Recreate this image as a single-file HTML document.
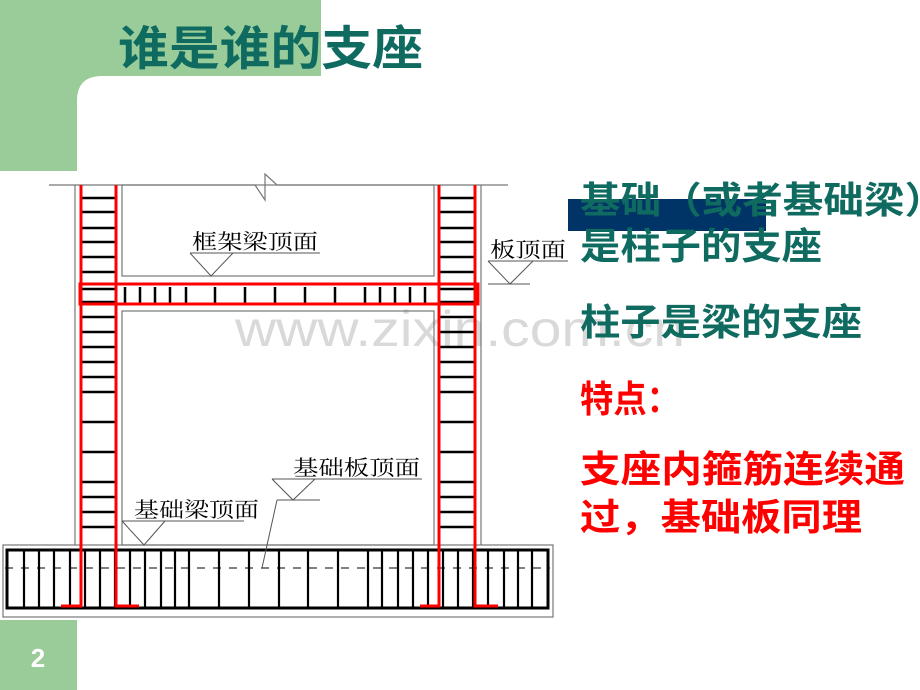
<!DOCTYPE html>
<html><head><meta charset="utf-8"><style>
html,body{margin:0;padding:0;background:#fff;}
svg{display:block;}
.cjk{font-family:"Liberation Sans","Noto Sans CJK SC","WenQuanYi Zen Hei",sans-serif;}
.ser{font-family:"Liberation Serif","Noto Serif CJK SC",serif;}
</style></head><body>
<svg width="920" height="690" viewBox="0 0 920 690" xmlns="http://www.w3.org/2000/svg">
<!-- green decorations -->
<rect x="0" y="0" width="321" height="76" fill="#99cc99"/>
<rect x="0" y="0" width="77" height="171" fill="#99cc99"/>
<path d="M77 76 L102 76 Q77 76 77 101 Z" fill="#99cc99"/>
<rect x="0" y="620" width="77" height="70" fill="#99cc99"/>
<text x="38" y="667" text-anchor="middle" font-family="Liberation Sans,sans-serif" font-weight="bold" font-size="26" fill="#fff">2</text>
<text x="118" y="65" class="cjk" font-size="47" font-weight="bold" fill="#0f6b60" textLength="305" lengthAdjust="spacingAndGlyphs">谁是谁的支座</text>

<!-- watermark -->
<text x="235" y="346" font-family="Liberation Sans,sans-serif" font-size="50" fill="#d9d9d9" textLength="450" lengthAdjust="spacingAndGlyphs">www.zixin.com.cn</text>

<g stroke="#777" stroke-width="1.2" fill="none">
<polyline points="49,185 255,185 265,200 265,174 277,185 508,185"/>
<line x1="75" y1="185" x2="75" y2="545"/>
<line x1="481" y1="185" x2="481" y2="545"/>
<rect x="122" y="185" width="312" height="91"/>
<rect x="122" y="311" width="312" height="234"/>
<rect x="3" y="545" width="550" height="72"/>
</g>

<!-- column hoops -->
<g stroke="#000" stroke-width="2.5">
<line x1="82" y1="198" x2="115" y2="198"/><line x1="439" y1="198" x2="474" y2="198"/>
<line x1="82" y1="212" x2="115" y2="212"/><line x1="439" y1="212" x2="474" y2="212"/>
<line x1="82" y1="228" x2="115" y2="228"/><line x1="439" y1="228" x2="474" y2="228"/>
<line x1="82" y1="242" x2="115" y2="242"/><line x1="439" y1="242" x2="474" y2="242"/>
<line x1="82" y1="257" x2="115" y2="257"/><line x1="439" y1="257" x2="474" y2="257"/>
<line x1="82" y1="272" x2="115" y2="272"/><line x1="439" y1="272" x2="474" y2="272"/>
<line x1="82" y1="289" x2="115" y2="289"/><line x1="439" y1="289" x2="474" y2="289"/>
<line x1="82" y1="302" x2="115" y2="302"/><line x1="439" y1="302" x2="474" y2="302"/>
<line x1="82" y1="317" x2="115" y2="317"/><line x1="439" y1="317" x2="474" y2="317"/>
<line x1="82" y1="332" x2="115" y2="332"/><line x1="439" y1="332" x2="474" y2="332"/>
<line x1="82" y1="347" x2="115" y2="347"/><line x1="439" y1="347" x2="474" y2="347"/>
<line x1="82" y1="362" x2="115" y2="362"/><line x1="439" y1="362" x2="474" y2="362"/>
<line x1="82" y1="377" x2="115" y2="377"/><line x1="439" y1="377" x2="474" y2="377"/>
<line x1="82" y1="392" x2="115" y2="392"/><line x1="439" y1="392" x2="474" y2="392"/>
<line x1="82" y1="422" x2="115" y2="422"/><line x1="439" y1="422" x2="474" y2="422"/>
<line x1="82" y1="452" x2="115" y2="452"/><line x1="439" y1="452" x2="474" y2="452"/>
<line x1="82" y1="482" x2="115" y2="482"/><line x1="439" y1="482" x2="474" y2="482"/>
<line x1="82" y1="497" x2="115" y2="497"/><line x1="439" y1="497" x2="474" y2="497"/>
<line x1="82" y1="512" x2="115" y2="512"/><line x1="439" y1="512" x2="474" y2="512"/>
<line x1="82" y1="527" x2="115" y2="527"/><line x1="439" y1="527" x2="474" y2="527"/>
</g>

<!-- beam stirrups -->
<g stroke="#000" stroke-width="2.5">
<line x1="125" y1="287" x2="125" y2="303"/><line x1="140" y1="287" x2="140" y2="303"/>
<line x1="155" y1="287" x2="155" y2="303"/><line x1="170" y1="287" x2="170" y2="303"/>
<line x1="186" y1="287" x2="186" y2="303"/><line x1="215" y1="287" x2="215" y2="303"/>
<line x1="245" y1="287" x2="245" y2="303"/><line x1="275" y1="287" x2="275" y2="303"/>
<line x1="305" y1="287" x2="305" y2="303"/><line x1="335" y1="287" x2="335" y2="303"/>
<line x1="365" y1="287" x2="365" y2="303"/><line x1="380" y1="287" x2="380" y2="303"/>
<line x1="395" y1="287" x2="395" y2="303"/><line x1="410" y1="287" x2="410" y2="303"/>
<line x1="425" y1="287" x2="425" y2="303"/>
</g>
<line x1="79" y1="285" x2="478" y2="285" stroke="#000" stroke-width="1" stroke-dasharray="7,8"/>

<!-- footing -->
<rect x="7" y="550" width="541" height="58" fill="none" stroke="#000" stroke-width="3"/>
<g stroke="#000" stroke-width="2.2">
<line x1="24" y1="550" x2="24" y2="608"/><line x1="39" y1="550" x2="39" y2="608"/>
<line x1="54" y1="550" x2="54" y2="608"/><line x1="70" y1="550" x2="70" y2="608"/>
<line x1="85" y1="550" x2="85" y2="608"/><line x1="100" y1="550" x2="100" y2="608"/>
<line x1="115" y1="550" x2="115" y2="608"/><line x1="130" y1="550" x2="130" y2="608"/>
<line x1="145" y1="550" x2="145" y2="608"/><line x1="161" y1="550" x2="161" y2="608"/>
<line x1="175" y1="550" x2="175" y2="608"/><line x1="189" y1="550" x2="189" y2="608"/>
<line x1="219" y1="550" x2="219" y2="608"/><line x1="249" y1="550" x2="249" y2="608"/>
<line x1="279" y1="550" x2="279" y2="608"/><line x1="308" y1="550" x2="308" y2="608"/>
<line x1="338" y1="550" x2="338" y2="608"/><line x1="368" y1="550" x2="368" y2="608"/>
<line x1="382" y1="550" x2="382" y2="608"/><line x1="398" y1="550" x2="398" y2="608"/>
<line x1="413" y1="550" x2="413" y2="608"/><line x1="428" y1="550" x2="428" y2="608"/>
<line x1="443" y1="550" x2="443" y2="608"/><line x1="458" y1="550" x2="458" y2="608"/>
<line x1="473" y1="550" x2="473" y2="608"/><line x1="488" y1="550" x2="488" y2="608"/>
<line x1="504" y1="550" x2="504" y2="608"/><line x1="518" y1="550" x2="518" y2="608"/>
<line x1="532" y1="550" x2="532" y2="608"/>
</g>
<line x1="5" y1="568" x2="550" y2="568" stroke="#000" stroke-width="1" stroke-dasharray="8,8"/>

<!-- red rebar -->
<g stroke="#ff0000" stroke-width="3" fill="none">
<polyline points="81,185 81,606 61,606"/>
<polyline points="116,185 116,606 139,606"/>
<polyline points="439,185 439,606 420,606"/>
<polyline points="475,185 475,606 498,606"/>
<rect x="80" y="284" width="398" height="20"/>
</g>

<!-- labels -->
<g stroke="#555" stroke-width="1" fill="none">
<polyline points="190,253 320,253"/>
<polyline points="190,253 211,276 233,253"/>
<polyline points="488,261 568,261"/>
<polyline points="488,261 510,284 533,261"/>
<line x1="488" y1="284" x2="530" y2="284"/>
<polyline points="272,479 422,479"/>
<polyline points="272,479 293,500 315,479"/>
<line x1="277" y1="500" x2="320" y2="500"/>
<line x1="277" y1="500" x2="262" y2="568"/>
<polyline points="122,521 244,521"/>
<polyline points="122,521 144,545 165,521"/>
</g>
<g class="ser" font-size="21" fill="#000">
<text x="192" y="249" textLength="126" lengthAdjust="spacingAndGlyphs">框架梁顶面</text>
<text x="490" y="257" textLength="76" lengthAdjust="spacingAndGlyphs">板顶面</text>
<text x="293" y="475" textLength="127" lengthAdjust="spacingAndGlyphs">基础板顶面</text>
<text x="134" y="517" textLength="125" lengthAdjust="spacingAndGlyphs">基础梁顶面</text>
</g>

<!-- right text -->
<rect x="568" y="199" width="198" height="32" fill="#003366"/>
<g class="cjk" font-size="37" font-weight="bold">
<text x="580" y="213" fill="#0f6b60" textLength="365" lengthAdjust="spacingAndGlyphs">基础（或者基础梁）</text>
<text x="580" y="259" fill="#0f6b60" textLength="242" lengthAdjust="spacingAndGlyphs">是柱子的支座</text>
<text x="580" y="335" fill="#0f6b60" textLength="282" lengthAdjust="spacingAndGlyphs">柱子是梁的支座</text>
<text x="580" y="412" fill="#ff0000" textLength="100" lengthAdjust="spacingAndGlyphs">特点：</text>
<text x="580" y="482" fill="#ff0000" textLength="325" lengthAdjust="spacingAndGlyphs">支座内箍筋连续通</text>
<text x="580" y="530" fill="#ff0000" textLength="282" lengthAdjust="spacingAndGlyphs">过，基础板同理</text>
</g>
</svg>
</body></html>
